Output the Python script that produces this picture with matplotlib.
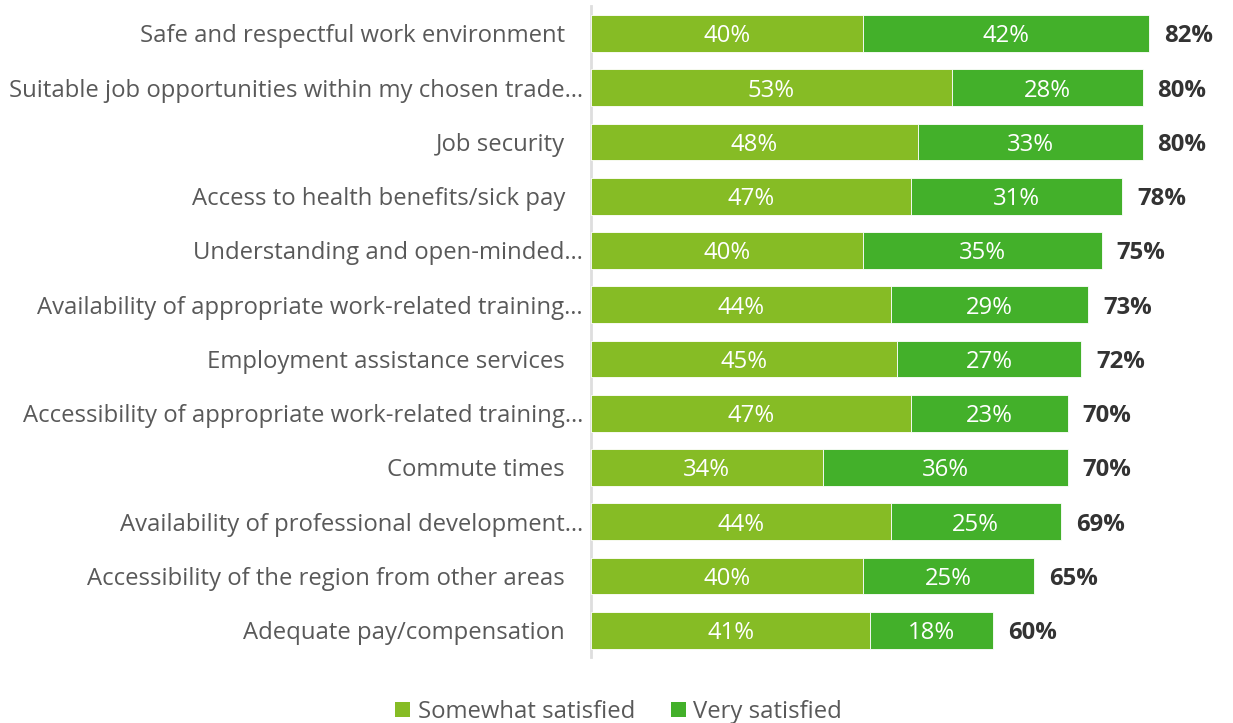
import matplotlib
matplotlib.use("Agg")
import matplotlib.pyplot as plt
from matplotlib.patches import Patch
from matplotlib import transforms

plt.rcParams['font.family'] = ['Open Sans', 'DejaVu Sans']

categories = [
    "Safe and respectful work environment",
    "Suitable job opportunities within my chosen trade…",
    "Job security",
    "Access to health benefits/sick pay",
    "Understanding and open-minded…",
    "Availability of appropriate work-related training…",
    "Employment assistance services",
    "Accessibility of appropriate work-related training…",
    "Commute times",
    "Availability of professional development…",
    "Accessibility of the region from other areas",
    "Adequate pay/compensation",
]
somewhat = [40, 53, 48, 47, 40, 44, 45, 47, 34, 44, 40, 41]
very = [42, 28, 33, 31, 35, 29, 27, 23, 36, 25, 25, 18]
totals = [82, 80, 80, 78, 75, 73, 72, 70, 70, 69, 65, 60]
series_names = ["Somewhat satisfied", "Very satisfied"]

c_light = "#86BC25"
c_dark = "#43B02A"
text_gray = "#595959"

W, H, DPI = 1233, 723, 100
fig = plt.figure(figsize=(W / DPI, H / DPI), dpi=DPI)
ax = fig.add_axes([591 / W, 1 - 657.4 / H, (1233 - 591) / W, (657.4 - 6.3) / H])

n = len(categories)
ypos = list(range(n))
bar_h = 0.675

ax.barh(ypos, somewhat, height=bar_h, color=c_light, edgecolor="white", linewidth=0.6, zorder=3)
ax.barh(ypos, very, left=somewhat, height=bar_h, color=c_dark, edgecolor="white", linewidth=0.6, zorder=3)

ax.set_ylim(n - 0.5, -0.5)
ax.set_xlim(0, (1233 - 591) / 6.81)

for s in ["top", "right", "bottom"]:
    ax.spines[s].set_visible(False)
ax.spines["left"].set_color("#dedede")
ax.spines["left"].set_linewidth(2.0)
ax.spines["left"].set_zorder(1)
ax.set_xticks([])
ax.set_yticks([])

fs = 17.2
dy = -3  # nudge text down so glyphs sit visually centred on the bars
in_bar = transforms.offset_copy(ax.transData, fig=fig, x=0, y=dy, units="dots")
after_bar = transforms.offset_copy(ax.transData, fig=fig, x=15, y=dy, units="dots")
for i, (a, b, t) in enumerate(zip(somewhat, very, totals)):
    ax.text(a / 2, i, f"{a}%", ha="center", va="center", color="white", fontsize=fs,
            zorder=4, transform=in_bar)
    ax.text(a + b / 2, i, f"{b}%", ha="center", va="center", color="white", fontsize=fs,
            zorder=4, transform=in_bar)
    ax.text(a + b, i, f"{t}%", ha="left", va="center", color="#333333",
            fontsize=fs, fontweight="bold", transform=after_bar)

# category labels, right aligned against the axis
for i, cat in enumerate(categories):
    pad = 8 if cat.endswith("…") else 26
    off = transforms.offset_copy(ax.get_yaxis_transform(), fig=fig, x=-pad, y=dy, units="dots")
    ax.text(0, i, cat, ha="right", va="center", color=text_gray, fontsize=fs, transform=off)

handles = [Patch(facecolor=c_light, edgecolor="none"), Patch(facecolor=c_dark, edgecolor="none")]
fig.legend(handles, series_names, loc="center", bbox_to_anchor=(0.5 + 2 / W, 1 - 712 / H), ncol=2,
           frameon=False, fontsize=fs, labelcolor=text_gray, handlelength=0.63,
           handleheight=0.63, handletextpad=0.3, columnspacing=1.5,
           borderpad=0, borderaxespad=0)

fig.savefig("out.png", dpi=DPI)
